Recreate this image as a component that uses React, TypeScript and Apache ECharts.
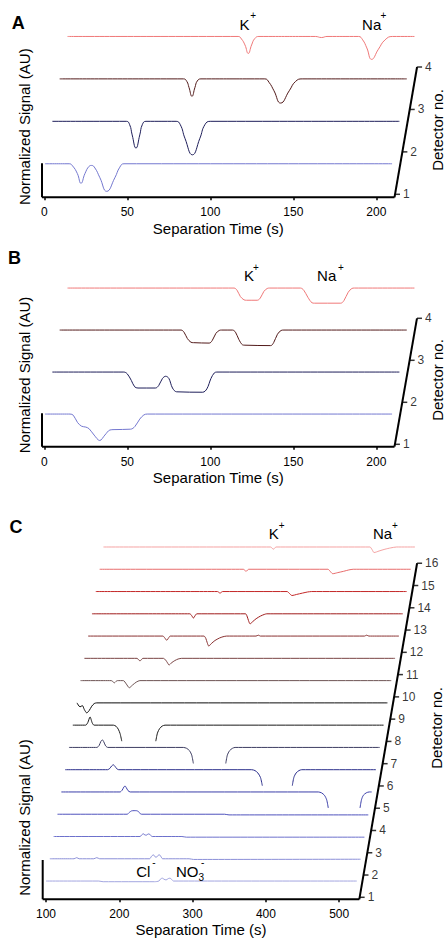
import React, { useEffect, useRef } from "react";
import * as echarts from "echarts";

// ---------- tick labels ----------
const X_TICKS_AB = [0, 50, 100, 150, 200];
const X_TICKS_C = [100, 200, 300, 400, 500];

// ---------- Panel A traces: [separation time (s), normalized signal] ----------
const A_D1 = [[0.4,0],[15,0],[17,-0.05],[19.9,-0.23],[22.1,-0.46],[24.5,-0.23],[27,-0.06],[28.5,-0.04],[30.5,-0.1],[33.5,-0.33],[37.6,-0.65],[42.5,-0.33],[45.5,-0.08],[48,0],[209.5,0]];
const A_D2 = [[0.4,0],[45,0],[47,-0.08],[48.5,-0.32],[50.8,-0.63],[53.1,-0.32],[54.6,-0.08],[56.8,0],[75,0],[77.5,-0.08],[80.3,-0.4],[84.8,-0.79],[89.3,-0.4],[92.3,-0.08],[95.5,0],[209.5,0]];
const A_D3 = [[0.4,0],[75,0],[77,-0.06],[78.3,-0.2],[80.1,-0.41],[81.9,-0.2],[83.3,-0.05],[85.5,0],[124,0],[126.5,-0.08],[129.5,-0.28],[133.5,-0.57],[138.7,-0.28],[142.5,-0.06],[146.5,0],[209.5,0]];
const A_D4 = [[0.7,0],[103.5,0],[105.5,-0.06],[107.6,-0.2],[109.6,-0.4],[111.6,-0.2],[113.5,-0.05],[116,0],[150,0],[153.7,-0.025],[157,0],[176,0],[178.5,-0.08],[181,-0.27],[183.9,-0.54],[188,-0.3],[192,-0.08],[196.5,0],[209.7,0]];

// ---------- Panel B traces ----------
const B_D1 = [[0.4,0],[15.5,0],[17.5,-0.03],[20,-0.2],[22.5,-0.29],[25,-0.31],[27,-0.35],[30,-0.5],[33.4,-0.63],[36.5,-0.5],[39.5,-0.38],[42,-0.37],[52,-0.36],[54.5,-0.3],[57.5,-0.12],[60,-0.02],[62,0],[209.5,0]];
const B_D2 = [[0.4,0],[43.5,0],[45.5,-0.04],[48,-0.2],[50,-0.35],[52,-0.38],[62.5,-0.38],[64.5,-0.32],[66.8,-0.15],[68.7,-0.1],[70.6,-0.15],[72.8,-0.38],[75.3,-0.47],[91,-0.48],[93.5,-0.4],[96,-0.15],[98,-0.02],[99.5,0],[209.5,0]];
const B_D3 = [[0.4,0],[73.5,0],[75.3,-0.05],[77.3,-0.2],[79.5,-0.29],[81,-0.3],[90.5,-0.31],[92.3,-0.25],[94.5,-0.08],[96.5,-0.01],[98,0],[104.5,0],[106.3,-0.05],[108.3,-0.22],[110.5,-0.35],[112,-0.36],[127.5,-0.37],[129.3,-0.3],[131.6,-0.1],[133.8,-0.01],[135.5,0],[209.5,0]];
const B_D4 = [[0.7,0],[101,0],[102.8,-0.05],[104.8,-0.2],[107,-0.28],[108.5,-0.29],[115,-0.29],[116.8,-0.24],[119,-0.08],[121,-0.01],[122.5,0],[141,0],[143,-0.05],[145.5,-0.22],[148,-0.35],[149.5,-0.36],[165.3,-0.36],[167.2,-0.3],[169.8,-0.1],[172,-0.01],[173.5,0],[209.7,0]];

// ---------- Panel C traces (null = off-scale gap) ----------
const C_D1 = [[100,0],[172,0],[178,-0.03],[248,-0.03],[254,0],[256.5,0.1],[258.7,0.13],[261,0.08],[263.8,0.05],[266.8,0.11],[269.2,0.13],[271.5,0.07],[274,0],[524,0]];
const C_D2 = [[100,0],[133,0],[136.7,0.05],[140,0],[160,0],[164,0.05],[168,0],[236,0],[238.5,0.1],[241.2,0.18],[243.5,0.09],[245.3,0.07],[247.3,0.14],[249.4,0.18],[251.5,0.1],[254,0],[290,0],[296,-0.03],[524,-0.02]];
const C_D3 = [[100,0],[218,0],[220,0.07],[222.3,0.12],[224.5,0.07],[226.3,0.06],[228.3,0.1],[230.1,0.12],[232,0.06],[234.5,0],[275,0],[281,-0.03],[524,-0.03]];
const C_D4 = [[100,0],[195,0],[198,0.08],[201,0.15],[204.5,0.16],[207.5,0.16],[210.5,0.12],[213,0.02],[215,0],[328,0],[334,-0.03],[524,-0.03]];
const C_D5 = [[100,0],[180,0],[183,0.08],[185.3,0.22],[186.9,0.27],[188.5,0.2],[191,0.06],[194,0],[450.6,0],[455,-0.04],[459,-0.15],[462,-0.35],[464.2,-0.72],null,[507.5,-0.72],[509.5,-0.35],[512,-0.15],[516,-0.04],[520,0],[523.4,0]];
const C_D6 = [[100,0],[158,0],[161,0.06],[163.5,0.17],[165.7,0.22],[168,0.15],[170.5,0.04],[173,0],[354.5,0],[359,-0.04],[363,-0.15],[366.5,-0.35],[369,-0.72],null,[409.9,-0.72],[412,-0.35],[415,-0.15],[419,-0.04],[422.7,0],[524,0]];
const C_D7 = [[100,0],[138,0],[141,0.08],[143.5,0.27],[145.5,0.34],[147.5,0.25],[150,0.07],[153,0],[256,0],[260.5,-0.04],[264.5,-0.15],[267.5,-0.35],[269.7,-0.72],null,[313.9,-0.72],[316,-0.35],[319,-0.15],[323,-0.04],[326.6,0],[524,0]];
const C_D8 = [[100,0],[117.5,0],[120.5,0.12],[123.5,0.37],[126.5,0.1],[129,0],[155.3,0],[159,-0.05],[162,-0.18],[164.5,-0.38],[166.8,-0.72],null,[213.2,-0.72],[215.5,-0.35],[218.5,-0.15],[222,-0.04],[225.8,0],[524,0]];
const C_D9 = [[100.5,0],[104.6,-0.18],[107.8,-0.12],[110.5,-0.3],[113.8,-0.45],[117,-0.35],[120.6,-0.15],[124,-0.03],[127.4,0],[524,0]];
const C_D10 = [[100,0],[142,0],[144,-0.04],[146.2,-0.1],[148.3,-0.04],[150.5,0],[158.5,0],[162.5,-0.15],[166.6,-0.32],[171,-0.2],[176,-0.07],[181.2,0],[524,0]];
const C_D11 = [[100,0],[172,0],[174,-0.06],[176,-0.12],[178,-0.05],[180,0],[208,0],[211,-0.08],[213.5,-0.2],[215.6,-0.3],[219,-0.2],[223.5,-0.1],[228,-0.03],[232.9,0],[524,0]];
const C_D12 = [[100,0],[202,0],[204.5,-0.08],[207.3,-0.19],[209.8,-0.08],[212,0],[258,0],[260.5,-0.1],[262.5,-0.3],[264.6,-0.45],[268,-0.34],[273,-0.2],[279,-0.09],[284,-0.03],[289,0],[329,0],[332.2,0.04],[335,0],[477,0],[480,0.04],[483,0],[524,0]];
const C_D13 = [[100,0],[233.5,0],[236,-0.08],[238.4,-0.19],[240.8,-0.08],[243,0],[309.5,0],[311.5,-0.1],[313.5,-0.3],[315.7,-0.45],[319,-0.36],[324,-0.22],[330,-0.1],[335,-0.03],[338.5,0],[524,0]];
const C_D14 = [[100,0],[266,0],[269.5,-0.07],[273,0],[361,0],[364,-0.08],[367.7,-0.18],[374,-0.13],[382,-0.07],[389,-0.02],[394.6,0],[524,0]];
const C_D15 = [[100,0],[296,0],[299.8,-0.09],[303.5,0],[411.5,0],[414.5,-0.09],[418,-0.2],[425,-0.15],[433,-0.09],[440,-0.03],[446,0],[524.5,0]];
const C_D16 = [[100,0],[328,0],[331.8,-0.1],[335.5,0],[463.5,0],[466.5,-0.12],[469.2,-0.25],[476,-0.18],[484,-0.1],[492,-0.04],[500,0],[525,0]];

const TRACES_A = [A_D1, A_D2, A_D3, A_D4];
const TRACES_B = [B_D1, B_D2, B_D3, B_D4];
const TRACES_C = [C_D1, C_D2, C_D3, C_D4, C_D5, C_D6, C_D7, C_D8, C_D9, C_D10, C_D11, C_D12, C_D13, C_D14, C_D15, C_D16];

// scale bar heights (signal units)
const SCALE_BAR = { A: 0.8, B: 0.795, C: 1.765 };

// ---------- styles ----------
const COLORS_AB = ["#7478d0", "#1e1e5a", "#521a1a", "#f07878"];
const COLORS_C = ["#a3a6e0", "#8b8fd8", "#6d71cc", "#4f53bd", "#3b3faa", "#2c2f8c", "#3d3d62", "#1a1a1a", "#0d0d0d", "#6e5454", "#7a4444", "#8a3232", "#a01c1c", "#c42828", "#e86c6c", "#f5a3a3"];
const FONT = '"Liberation Sans", Arial, Helvetica, sans-serif';

// ---------- layout (pixels) ----------
const GRID_RIGHT_PX = 445;
const LAYOUT = {
  A: { x0px: 44.3, xRef: 0, pxPerX: 1.66, left: 42, right: 394.5, axisY: 197.3, tick1Y: 194.3, pxPerY: 42.43, top: 10, shiftPx: 7.35, base: 0.72, smooth: 0.5 },
  B: { x0px: 44.3, xRef: 0, pxPerX: 1.66, left: 42, right: 394.5, axisY: 446.7, tick1Y: 444.3, pxPerY: 42.0, top: 255, shiftPx: 7.35, base: 0.72, smooth: 0.35 },
  C: { x0px: 46, xRef: 100, pxPerX: 0.733, left: 42.7, right: 359.3, axisY: 899.3, tick1Y: 897.3, pxPerY: 22.27, top: 515, shiftPx: 3.83, base: 0.73, smooth: 0.25 },
};

function buildPanel(idx: number, L: any, traces: any[], colors: string[], ticks: number[], barH: number) {
  const xMin = L.xRef + (L.left - L.x0px) / L.pxPerX;
  const xEnd = L.xRef + (L.right - L.x0px) / L.pxPerX;
  const xGridMax = L.xRef + (GRID_RIGHT_PX - L.x0px) / L.pxPerX;
  const yMin = 1 - (L.axisY - L.tick1Y) / L.pxPerY;
  const yMax = 1 + (L.tick1Y - L.top) / L.pxPerY;
  const shift = L.shiftPx / L.pxPerX;
  const n = traces.length;

  const grid = { left: L.left, top: L.top, width: GRID_RIGHT_PX - L.left, height: L.axisY - L.top, outerBoundsMode: "none", containLabel: false };
  const xAxis = {
    gridIndex: idx, type: "value", min: xMin, max: xGridMax,
    axisLine: { show: false },
    axisTick: { show: true, customValues: ticks, length: 3, lineStyle: { color: "#000", width: 1.5 } },
    axisLabel: { show: true, customValues: ticks, fontSize: 12, color: "#000", margin: 9, fontFamily: FONT },
    splitLine: { show: false },
  };
  const yAxis = { gridIndex: idx, type: "value", min: yMin, max: yMax, show: false };

  const series: any[] = traces.map((tr: any[], i: number) => ({
    type: "line", xAxisIndex: idx, yAxisIndex: idx,
    data: tr.map((p: any) => (p === null ? ["-", "-"] : [p[0] + i * shift, i + 1 + L.base + p[1]])),
    showSymbol: false, symbol: "none", smooth: L.smooth, clip: false, silent: true,
    lineStyle: { width: 1, color: colors[i] }, z: 3,
  }));

  // time axis line
  series.push({
    type: "line", xAxisIndex: idx, yAxisIndex: idx, clip: false, silent: true, symbol: "none",
    data: [[xMin, yMin], [xEnd, yMin]],
    lineStyle: { width: 2, color: "#000" }, z: 4,
  });
  // depth (detector) axis
  series.push({
    type: "line", xAxisIndex: idx, yAxisIndex: idx, clip: false, silent: true, symbol: "none",
    data: [[xEnd, yMin], [xEnd + (n - yMin) * shift, n]],
    lineStyle: { width: 2, color: "#000" }, z: 4,
  });
  series.push({
    type: "scatter", xAxisIndex: idx, yAxisIndex: idx, clip: false, silent: true,
    symbol: "rect", symbolSize: [5, 1.5], symbolOffset: [2.5, 0],
    itemStyle: { color: "#000" },
    data: Array.from({ length: n }, (_, k) => [xEnd + (k + 1 - yMin) * shift, k + 1]),
    label: { show: true, position: "right", distance: 3, formatter: (p: any) => String(p.dataIndex + 1), fontSize: 12, color: "#000", fontFamily: FONT },
    z: 4,
  });
  // scale bar
  series.push({
    type: "line", xAxisIndex: idx, yAxisIndex: idx, clip: false, silent: true, symbol: "none",
    data: [[xMin, yMin], [xMin, yMin + barH]],
    lineStyle: { width: 2, color: "#000" }, z: 4,
  });
  return { grid, xAxis, yAxis, series };
}

function txt(text: string, x: number, y: number, size: number, opts: any = {}) {
  return {
    type: "text", x, y, rotation: opts.rot || 0, silent: true, z: 10,
    style: {
      text, fontSize: size, fontFamily: FONT, fontWeight: opts.bold ? "bold" : "normal",
      fill: "#000", textAlign: opts.align || "center", textVerticalAlign: "middle",
    },
  };
}

export default function App() {
  const ref = useRef<HTMLDivElement>(null);
  useEffect(() => {
    if (!ref.current) return;
    const chart = echarts.init(ref.current, undefined, { renderer: "svg" });
    const pA = buildPanel(0, LAYOUT.A, TRACES_A, COLORS_AB, X_TICKS_AB, SCALE_BAR.A);
    const pB = buildPanel(1, LAYOUT.B, TRACES_B, COLORS_AB, X_TICKS_AB, SCALE_BAR.B);
    const pC = buildPanel(2, LAYOUT.C, TRACES_C, COLORS_C, X_TICKS_C, SCALE_BAR.C);
    const R = Math.PI / 2;
    const graphic = [
      // Panel A
      txt("A", 18.3, 22.7, 18, { bold: true }),
      txt("K", 244.5, 24.2, 15), txt("+", 253.2, 15.8, 10),
      txt("Na", 371.7, 24.2, 15), txt("+", 383.3, 15.8, 10),
      txt("Normalized Signal (AU)", 24.2, 126.7, 15, { rot: R }),
      txt("Detector no.", 437, 130, 15, { rot: R }),
      txt("Separation Time (s)", 218.3, 228.3, 15),
      // Panel B
      txt("B", 14.5, 258.3, 18, { bold: true }),
      txt("K", 249, 275.8, 15), txt("+", 255.8, 267.5, 10),
      txt("Na", 326.7, 275.8, 15), txt("+", 340.8, 267.5, 10),
      txt("Normalized Signal (AU)", 24.2, 375, 15, { rot: R }),
      txt("Detector no.", 437, 380, 15, { rot: R }),
      txt("Separation Time (s)", 218.3, 477.7, 15),
      // Panel C
      txt("C", 16, 526.7, 18, { bold: true }),
      txt("K", 273.8, 533.8, 15), txt("+", 281.7, 525.8, 10),
      txt("Na", 382.5, 533.8, 15), txt("+", 395, 525.8, 10),
      txt("Cl", 143.3, 871.7, 15), txt("-", 154, 862, 10),
      txt("NO", 187.2, 871.7, 15), txt("3", 201.2, 877, 10), txt("-", 202.7, 862, 10),
      txt("Normalized Signal (AU)", 24.2, 817.5, 15, { rot: R }),
      txt("Detector no.", 436, 728, 15, { rot: R }),
      txt("Separation Time (s)", 201, 929, 15),
    ];
    chart.setOption({
      animation: false,
      backgroundColor: "#fff",
      grid: [pA.grid, pB.grid, pC.grid],
      xAxis: [pA.xAxis, pB.xAxis, pC.xAxis],
      yAxis: [pA.yAxis, pB.yAxis, pC.yAxis],
      series: [...pA.series, ...pB.series, ...pC.series],
      graphic,
    });
    return () => chart.dispose();
  }, []);
  return <div ref={ref} style={{ position: "absolute", left: 0, top: 0, width: 445, height: 938 }} />;
}
